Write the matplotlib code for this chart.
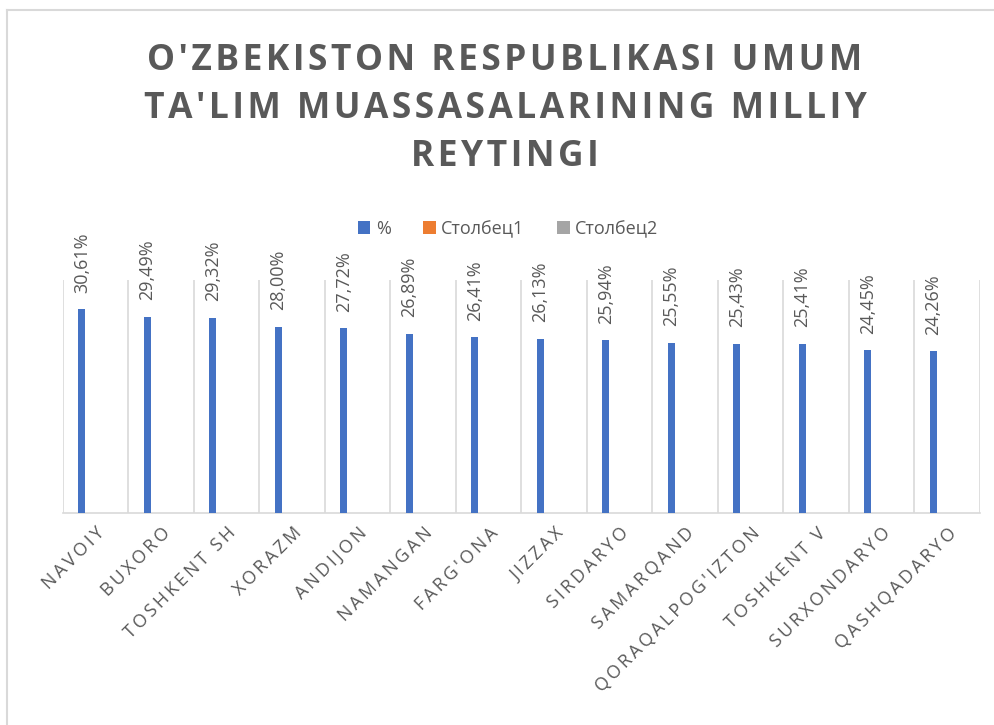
import matplotlib
matplotlib.use('Agg')
import matplotlib.pyplot as plt
from matplotlib.lines import Line2D
from matplotlib.patches import Patch
import numpy as np

plt.rcParams['font.family'] = ['Open Sans', 'DejaVu Sans']

W, H = 995, 725
TEXT = "#595959"
GRID = "#D9D9D9"

regions = ["NAVOIY", "BUXORO", "TOSHKENT SH", "XORAZM", "ANDIJON", "NAMANGAN",
           "FARG'ONA", "JIZZAX", "SIRDARYO", "SAMARQAND", "QORAQALPOG'IZTON",
           "TOSHKENT V", "SURXONDARYO", "QASHQADARYO"]
percent = [30.61, 29.49, 29.32, 28.00, 27.72, 26.89, 26.41, 26.13, 25.94,
           25.55, 25.43, 25.41, 24.45, 24.26]
series_names = ["%", "Столбец1", "Столбец2"]
series_colors = ["#4472C4", "#ED7D31", "#A5A5A5"]


def spaced(s, sp="\u2009"):
    return sp.join(s)


fig = plt.figure(figsize=(W / 100, H / 100), dpi=100)
ax = fig.add_axes([63 / W, 1 - 513 / H, (980 - 63) / W, (513 - 280) / H])

x = np.arange(len(regions))
ax.bar(x - 0.21, percent, width=0.107, color=series_colors[0], zorder=3)

for xi, v in zip(x, percent):
    lbl = f"{v:.2f}%".replace(".", ",")
    ax.annotate(lbl, (xi - 0.21, v), xytext=(0, 12), textcoords="offset points",
                rotation=90, ha="center", va="bottom", fontsize=13, color=TEXT)

ax.set_xlim(-0.5, len(regions) - 0.5)
ax.set_ylim(0, 35)
ax.set_yticks([])
ax.set_xticks(x)
ax.set_xticklabels([spaced(r) for r in regions], rotation=45, ha="right",
                   va="top", rotation_mode="anchor", fontsize=13, color=TEXT)
ax.tick_params(axis="x", length=0, pad=8)
ax.set_xticks(np.arange(-0.5, len(regions)), minor=True)
ax.tick_params(axis="x", which="minor", length=0)
ax.grid(True, axis="x", which="minor", color=GRID, lw=1.2, zorder=0)
ax.grid(False, axis="x", which="major")
for s in ["top", "right", "left"]:
    ax.spines[s].set_visible(False)
ax.spines["bottom"].set_color(GRID)
ax.spines["bottom"].set_linewidth(1.2)

title = ("O'ZBEKISTON RESPUBLIKASI UMUM\n"
         "TA'LIM MUASSASALARINING MILLIY\n"
         "REYTINGI")
fig.text(505 / W, 1 - 109 / H, "\n".join(spaced(l, "\u200a") for l in title.split("\n")),
         ha="center", va="center", fontsize=25.5, fontweight="bold", color=TEXT,
         linespacing=1.45, multialignment="center")

handles = [Patch(facecolor=c) for c in series_colors]
fig.legend(handles, series_names, loc="center", bbox_to_anchor=(508 / W, 1 - 229 / H),
           ncol=3, frameon=False, fontsize=13, handlelength=0.7, handleheight=0.7,
           handletextpad=0.3, columnspacing=1.8, labelcolor=TEXT)

# chart frame (partially cropped in the reference)
fig.add_artist(Line2D([7 / W, 1], [1 - 10 / H, 1 - 10 / H], color=GRID, lw=1.5))
fig.add_artist(Line2D([7 / W, 7 / W], [0, 1 - 10 / H], color=GRID, lw=1.5))

fig.savefig("out.png", dpi=100)
